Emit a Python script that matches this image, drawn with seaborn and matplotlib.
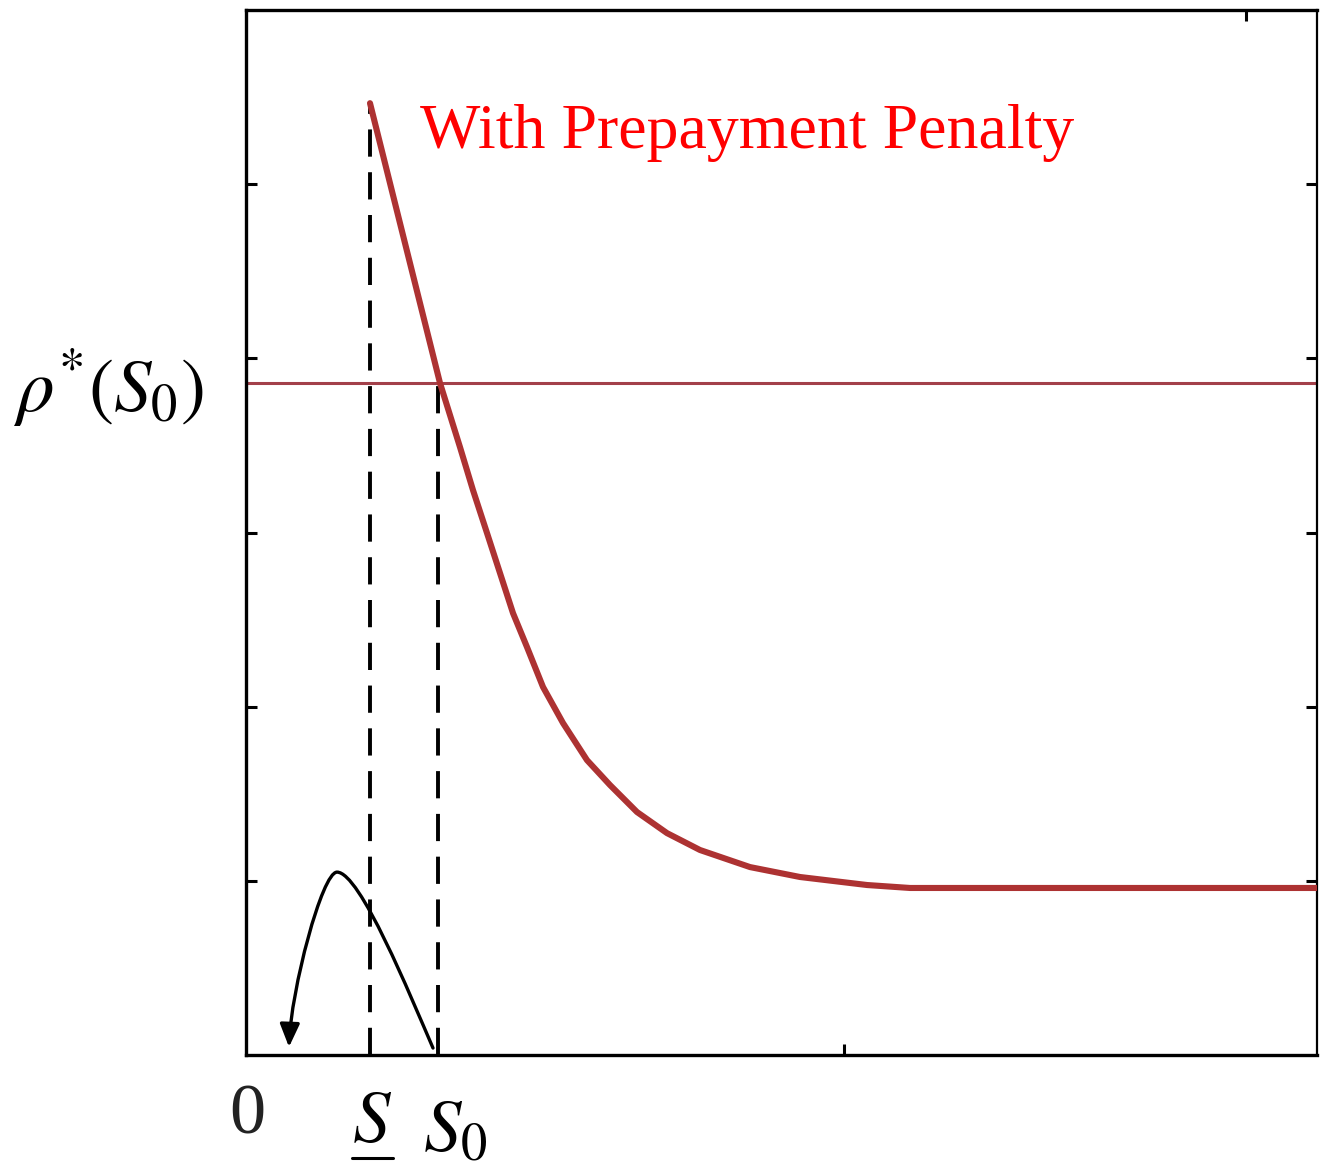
import numpy as np
import pandas as pd
import seaborn as sns
import matplotlib.pyplot as plt
from matplotlib.path import Path
from matplotlib.patches import FancyArrowPatch
from matplotlib.lines import Line2D

# Optimal rate curve rho*(S) with a prepayment penalty
s_values = [12.4, 15.9, 19.4, 21.4, 22.7, 24.1, 25.4, 26.7, 28.1, 29.7, 31.7,
            34.1, 36.4, 39.1, 42.1, 45.4, 50.4, 55.4, 62.1, 66.4, 107.1]
rho_values = [5.465, 4.661, 3.858, 3.490, 3.243, 2.997, 2.767, 2.537, 2.342,
              2.113, 1.906, 1.693, 1.550, 1.395, 1.274, 1.177, 1.079, 1.022,
              0.976, 0.959, 0.959]

# Reference levels
rho_at_s0 = 3.86          # horizontal level rho*(S0)
s_lower = 12.4            # S underbar (lower threshold)
s0 = 19.2                 # S0
rho_at_s_lower = 5.465

# Axis limits and frame ticks
x_limits = (0, 107.1)
y_limits = (0, 6)
y_ticks = [1, 2, 3, 4, 5]
x_tick_bottom = [59.8]
x_tick_top = [100]

# Swooping arrow from S0 back towards zero (two cubic Bezier pieces)
arrow_vertices = [(18.7, 0.04), (16.4, 0.344), (11.4, 1.05), (9.1, 1.05),
                  (7.6, 1.05), (4.5, 0.373), (4.3, 0.046)]

curve_df = pd.DataFrame({"S": s_values, "rho": rho_values})
level_df = pd.DataFrame({"S": list(x_limits), "rho": [rho_at_s0, rho_at_s0]})

sns.set_style("white")
plt.rcParams["mathtext.fontset"] = "stix"
plt.rcParams["font.family"] = ["Liberation Serif", "DejaVu Serif"]
plt.rcParams["text.color"] = "black"

W, H = 1325, 1174
fig = plt.figure(figsize=(W / 100, H / 100), dpi=100)
ax = fig.add_axes([246 / W, 1 - 1055 / H, (1317 - 246) / W, (1055 - 10) / H])

# Horizontal level line
sns.lineplot(data=level_df, x="S", y="rho", ax=ax, color="#a3404a", lw=2.2,
             estimator=None, sort=False, legend=False)

# Dashed verticals at S underbar and S0
ax.plot([s_lower, s_lower], [0, rho_at_s_lower], color="black", lw=2.8,
        dashes=(7, 4), dash_capstyle="butt", zorder=3)
ax.plot([s0, s0], [0, rho_at_s0], color="black", lw=2.8,
        dashes=(7, 4), dash_capstyle="butt", zorder=3)

# Main curve
sns.lineplot(data=curve_df, x="S", y="rho", ax=ax, color="#ad3232", lw=4.4,
             estimator=None, sort=False, legend=False, zorder=4,
             solid_joinstyle="round", solid_capstyle="round")

# Curved arrow
codes = [Path.MOVETO, Path.CURVE4, Path.CURVE4, Path.CURVE4,
         Path.CURVE4, Path.CURVE4, Path.CURVE4]
arrow = FancyArrowPatch(path=Path(arrow_vertices, codes),
                        arrowstyle="-|>,head_length=0.7,head_width=0.3",
                        mutation_scale=20, color="black", lw=2.4,
                        transform=ax.transData, zorder=5)
ax.add_patch(arrow)

ax.set_xlim(*x_limits)
ax.set_ylim(*y_limits)
ax.set_xlabel("")
ax.set_ylabel("")

ax.set_yticks(y_ticks)
ax.set_yticklabels([])
ax.set_xticks(x_tick_bottom)
ax.set_xticks(x_tick_top, minor=True)
ax.set_xticklabels([])
ax.tick_params(axis="y", which="major", direction="in", left=True, right=True,
               length=8, width=2.2, color="black")
ax.tick_params(axis="x", which="major", direction="in", bottom=True, top=False,
               length=8, width=2.2, color="black")
ax.tick_params(axis="x", which="minor", direction="in", bottom=False, top=True,
               length=8, width=2.2, color="black")

for side in ["left", "bottom", "top"]:
    ax.spines[side].set_visible(True)
    ax.spines[side].set_color("black")
    ax.spines[side].set_linewidth(2.4)
ax.spines["right"].set_visible(True)
ax.spines["right"].set_color("black")
ax.spines["right"].set_linewidth(1.6)

# Title inside the frame
ax.text(17.4, 5.207, "With Prepayment Penalty", color="#ff0000",
        fontsize=46, va="baseline", ha="left", family="Liberation Serif")

# Labels outside the frame
def fx(px):
    return px / W

def fy(py):
    return 1 - py / H

fig.text(fx(108), fy(388), r"$\rho^{*}(S_{0})$", fontsize=54,
         ha="center", va="center", color="black")
fig.text(fx(247), fy(1116), "0", fontsize=52, ha="center", va="center",
         family="Liberation Serif", color="#222222")
fig.text(fx(372), fy(1124), r"$S$", fontsize=54,
         ha="center", va="center", color="black")
fig.add_artist(Line2D([fx(352), fx(393)], [fy(1158), fy(1158)],
                      color="black", lw=2.2, transform=fig.transFigure))
fig.text(fx(455), fy(1134), r"$S_{0}$", fontsize=54,
         ha="center", va="center", color="black")

fig.savefig("out.png", dpi=100)
